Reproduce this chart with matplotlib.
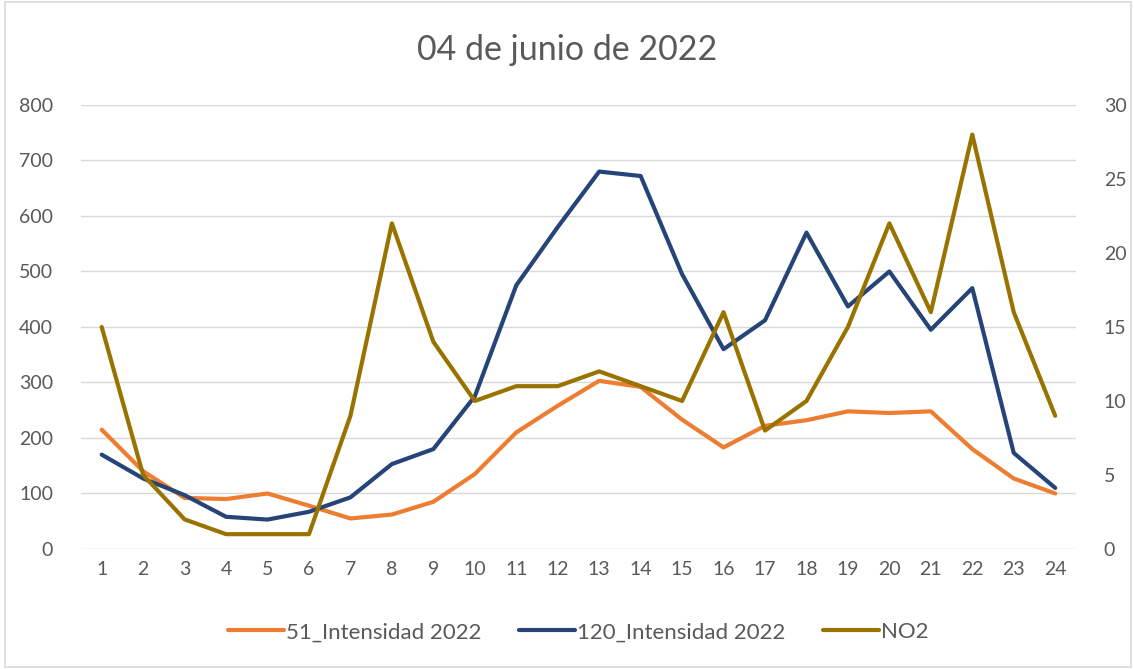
import matplotlib.pyplot as plt
from matplotlib.patches import Rectangle
import numpy as np

plt.rcParams['font.family'] = ['Lato', 'DejaVu Sans']

horas = list(range(1, 25))
int_51 = [215, 140, 92, 90, 100, 78, 55, 62, 85, 135, 210, 258,
          303, 292, 233, 183, 222, 232, 248, 245, 248, 180, 127, 100]
int_120 = [170, 127, 97, 58, 53, 67, 93, 153, 180, 275, 475, 580,
           680, 672, 495, 360, 412, 570, 437, 500, 395, 470, 173, 110]
no2 = [15, 5, 2, 1, 1, 1, 9, 22, 14, 10, 11, 11,
       12, 11, 10, 16, 8, 10, 15, 22, 16, 28, 16, 9]

gris = '#595959'
fig = plt.figure(figsize=(11.34, 6.69), dpi=100)
fig.patches.append(Rectangle((0.004, 0.003), 0.993, 0.994, transform=fig.transFigure,
                             fill=False, edgecolor='#D9D9D9', lw=1.2))

ax = fig.add_axes([0.0714, 0.1794, 0.8774, 0.6637])
ax2 = ax.twinx()

l1, = ax.plot(horas, int_51, color='#ED7D31', lw=3, solid_capstyle='round', label='51_Intensidad 2022')
l2, = ax.plot(horas, int_120, color='#264478', lw=3, solid_capstyle='round', label='120_Intensidad 2022')
l3, = ax2.plot(horas, no2, color='#997300', lw=3, solid_capstyle='round', label='NO2')

ax.set_xlim(0.5, 24.5)
ax.set_ylim(0, 800)
ax.set_yticks(range(0, 801, 100))
ax2.set_ylim(0, 30)
ax2.set_yticks(range(0, 31, 5))
ax.set_xticks(horas)
ax.grid(axis='y', color='#D9D9D9', lw=1)
ax.set_axisbelow(True)

for a in (ax, ax2):
    for s in a.spines.values():
        s.set_visible(False)
    a.tick_params(length=0, labelsize=14, colors=gris)
ax.tick_params(axis='y', pad=20)
ax2.tick_params(axis='y', pad=20)
ax.tick_params(axis='x', pad=9)

fig.text(0.5, 0.925, '04 de junio de 2022', ha='center', va='center', fontsize=24.5, color=gris)
fig.legend(handles=[l1, l2, l3], loc='center', bbox_to_anchor=(0.51, 0.055), ncol=3,
           frameon=False, fontsize=16, labelcolor=gris, handlelength=2.5,
           handletextpad=0.1, columnspacing=1.7)

fig.savefig('out.png', dpi=100)
